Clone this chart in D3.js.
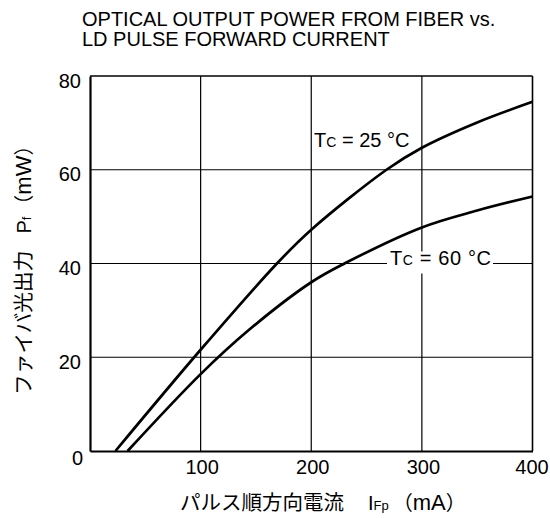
<!DOCTYPE html>
<html><head><meta charset="utf-8">
<script src="https://cdn.jsdelivr.net/npm/d3@7"></script>
<style>
html,body{margin:0;padding:0;background:#fff;}
svg{display:block;font-family:"Liberation Sans",Arial,sans-serif;}
</style></head>
<body><svg id="c" width="550" height="518"></svg>
<script>
// ---- data ----
const titleLines = ["OPTICAL OUTPUT POWER FROM FIBER vs.", "LD PULSE FORWARD CURRENT"];
const xTicks = [100, 200, 300, 400];
const yTicks = [20, 40, 60, 80];
const xGrid = [100, 200, 300];
const yGrid = [20, 40, 60];
const current25 = [23, 100, 169, 200, 268, 300, 350, 400];
const power25   = [0, 21.6, 40, 47.2, 60, 64.7, 70.1, 74.5];
const current60 = [34, 100, 143, 200, 230, 300, 350, 400];
const power60   = [0, 16.4, 25.7, 36, 40, 47.7, 51.3, 54.3];

const svg = d3.select("#c");
const x = d3.scaleLinear().domain([0, 400]).range([90, 532.5]);
const y = d3.scaleLinear().domain([0, 80]).range([451, 76]);

// title
svg.append("g").selectAll("text").data(titleLines).join("text")
  .attr("x", 82).attr("y", (d, i) => 26 + i * 20)
  .attr("font-size", 20).attr("fill", "#000").text(d => d);

// grid
svg.append("g").selectAll("line").data(xGrid).join("line")
  .attr("x1", d => x(d)).attr("x2", d => x(d)).attr("y1", y(0)).attr("y2", y(80))
  .attr("stroke", "#000").attr("stroke-width", 1.2);
svg.append("g").selectAll("line").data(yGrid).join("line")
  .attr("x1", x(0)).attr("x2", x(400)).attr("y1", d => y(d)).attr("y2", d => y(d))
  .attr("stroke", "#000").attr("stroke-width", 1.2);

// frame
svg.append("line").attr("x1", x(0)).attr("x2", x(400)).attr("y1", y(80)).attr("y2", y(80))
  .attr("stroke", "#000").attr("stroke-width", 1.6);
svg.append("line").attr("x1", x(400)).attr("x2", x(400)).attr("y1", y(0)).attr("y2", y(80))
  .attr("stroke", "#000").attr("stroke-width", 1.6);

// axes
const yAxis = svg.append("g").attr("transform", `translate(${x(0)},0)`)
  .call(d3.axisLeft(y).tickValues(yTicks).tickSize(0).tickPadding(9));
const xAxis = svg.append("g").attr("transform", `translate(0,${y(0)})`)
  .call(d3.axisBottom(x).tickValues(xTicks).tickSize(0).tickPadding(9));
[yAxis, xAxis].forEach(g => {
  g.select(".domain").attr("stroke", "#000").attr("stroke-width", 2.2);
  g.selectAll("text").attr("font-size", 20).attr("fill", "#000")
   .attr("font-family", "'Liberation Sans',Arial,sans-serif");
});
yAxis.selectAll("text").attr("dy", "0.55em");
xAxis.selectAll("text").attr("dx", d => d === 400 ? -1 : 1);
svg.append("text").attr("x", 77.5).attr("y", 465).attr("text-anchor", "middle")
  .attr("font-size", 20).text("0");

// curves
const line = d3.line().x(d => x(d[0])).y(d => y(d[1])).curve(d3.curveCatmullRom.alpha(0.5));
const s25 = current25.map((c, i) => [c, power25[i]]);
const s60 = current60.map((c, i) => [c, power60[i]]);
svg.append("path").attr("d", line(s25)).attr("fill", "none").attr("stroke", "#000").attr("stroke-width", 2.7);
svg.append("path").attr("d", line(s60)).attr("fill", "none").attr("stroke", "#000").attr("stroke-width", 2.7);

// curve labels
function tcLabel(xp, yp, temp) {
  const t = svg.append("text").attr("x", xp).attr("y", yp).attr("font-size", 20);
  t.append("tspan").text("T");
  t.append("tspan").attr("font-size", 14).text("C");
  t.append("tspan").text(" = " + temp + " °C");
  return t;
}
svg.append("rect").attr("x", 387).attr("y", y(40) - 12).attr("width", 106).attr("height", 22).attr("fill", "#fff");
tcLabel(314, 147, 25);
tcLabel(390, 265, 60).attr("textLength", 101);

// x axis title
const xt = svg.append("text").attr("x", 180).attr("y", 510).attr("font-size", 20);
xt.append("tspan").attr("font-family", "'Noto Sans CJK JP',sans-serif").attr("font-size", 20.5).text("パルス順方向電流");
xt.append("tspan").attr("dx", 24).text("I");
xt.append("tspan").attr("font-size", 13).text("Fp");
xt.append("tspan").attr("font-family", "'Noto Sans CJK JP',sans-serif").attr("dx", 4).text("（");
xt.append("tspan").attr("font-size", 22).text("mA");
xt.append("tspan").attr("font-family", "'Noto Sans CJK JP',sans-serif").text("）");

// y axis title
const yt = svg.append("text").attr("transform", "translate(31,395) rotate(-90)").attr("font-size", 20);
yt.append("tspan").attr("font-family", "'Noto Sans CJK JP',sans-serif").attr("font-size", 20.7).text("ファイバ光出力");
yt.append("tspan").attr("dx", 17).text("P");
yt.append("tspan").attr("font-size", 13).text("f");
yt.append("tspan").attr("font-family", "'Noto Sans CJK JP',sans-serif").attr("dx", 2).text("（");
yt.append("tspan").attr("font-size", 22).text("mW");
yt.append("tspan").attr("font-family", "'Noto Sans CJK JP',sans-serif").text("）");
</script></body></html>
